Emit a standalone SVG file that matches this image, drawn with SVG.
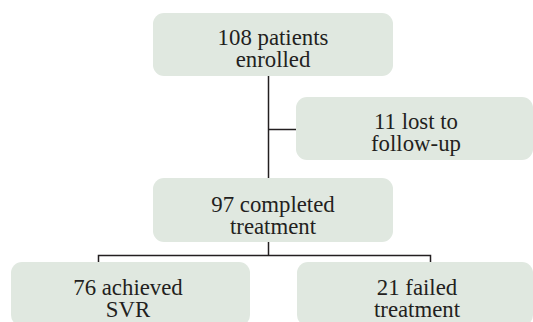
<svg xmlns="http://www.w3.org/2000/svg" width="533" height="322" viewBox="0 0 533 322">
<style>
.box{fill:#e0e8e0;}
.t{font-family:'Liberation Serif','Times New Roman',serif;font-size:22.8px;fill:#231f20;text-anchor:middle;}
.c{stroke:#231f20;stroke-width:1.5;fill:none;}
</style>
<rect width="533" height="322" fill="#ffffff"/>
<g id="connectors">
<path class="c" d="M268.5 76 V178"/>
<path class="c" d="M268.5 129.5 H296"/>
<path class="c" d="M268.5 242 V255.5"/>
<path class="c" d="M98.5 262 V255.5 H430.5 V262"/>
</g>
<g id="enrolled">
<rect class="box" x="153" y="13" width="240" height="63" rx="11"/>
<text class="t" x="273" y="44.8">108 patients</text>
<text class="t" x="273" y="66.8">enrolled</text>
</g>
<g id="lost">
<rect class="box" x="296" y="97" width="237" height="63" rx="11"/>
<text class="t" x="416" y="129">11 lost to</text>
<text class="t" x="416" y="151">follow-up</text>
</g>
<g id="completed">
<rect class="box" x="153" y="178" width="240" height="64" rx="11"/>
<text class="t" x="273" y="211.5">97 completed</text>
<text class="t" x="273" y="233.5">treatment</text>
</g>
<g id="svr">
<rect class="box" x="11" y="262" width="239" height="64" rx="11"/>
<text class="t" x="128" y="294.5">76 achieved</text>
<text class="t" x="128" y="316.5">SVR</text>
</g>
<g id="failed">
<rect class="box" x="297" y="262" width="236" height="64" rx="11"/>
<text class="t" x="417" y="294.5">21 failed</text>
<text class="t" x="417" y="316.5">treatment</text>
</g>
</svg>
